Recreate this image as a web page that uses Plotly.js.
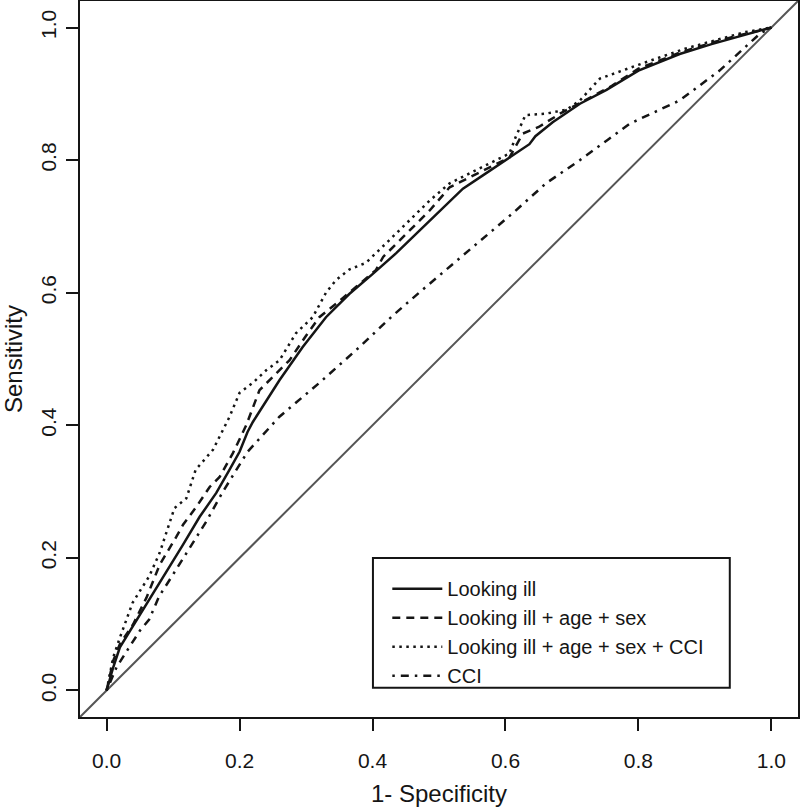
<!DOCTYPE html>
<html>
<head>
<meta charset="utf-8">
<script src="https://cdn.plot.ly/plotly-3.0.1.min.js"></script>
<style>html,body{margin:0;padding:0;background:#fff;}#chart{width:800px;height:807px;}</style>
</head>
<body>
<div id="chart"></div>
<script>
// Series names
const seriesNames = ["Looking ill", "Looking ill + age + sex", "Looking ill + age + sex + CCI", "CCI"];

// Looking ill (solid)
const illX = [0, 0.01, 0.02, 0.039, 0.065, 0.09, 0.115, 0.14, 0.165, 0.185, 0.2, 0.212, 0.22, 0.26, 0.295, 0.33, 0.365, 0.4, 0.436, 0.471, 0.505, 0.536, 0.566, 0.596, 0.636, 0.645, 0.671, 0.712, 0.752, 0.8, 0.862, 0.91, 0.95, 0.993, 1];
const illY = [0, 0.035, 0.065, 0.096, 0.137, 0.178, 0.22, 0.262, 0.298, 0.333, 0.36, 0.39, 0.405, 0.468, 0.518, 0.563, 0.598, 0.628, 0.66, 0.694, 0.727, 0.757, 0.777, 0.797, 0.824, 0.836, 0.857, 0.885, 0.906, 0.935, 0.96, 0.975, 0.986, 0.998, 1];

// Looking ill + age + sex (dashed)
const ageSexX = [0, 0.01, 0.02, 0.04, 0.06, 0.08, 0.105, 0.115, 0.135, 0.155, 0.17, 0.19, 0.21, 0.23, 0.25, 0.275, 0.3, 0.32, 0.346, 0.365, 0.405, 0.416, 0.456, 0.486, 0.516, 0.546, 0.576, 0.606, 0.626, 0.65, 0.682, 0.72, 0.76, 0.8, 0.862, 0.91, 0.95, 0.993, 1];
const ageSexY = [0, 0.045, 0.07, 0.1, 0.14, 0.19, 0.232, 0.25, 0.277, 0.307, 0.322, 0.358, 0.4, 0.453, 0.473, 0.498, 0.535, 0.563, 0.584, 0.6, 0.634, 0.654, 0.694, 0.724, 0.759, 0.774, 0.789, 0.804, 0.84, 0.85, 0.87, 0.89, 0.912, 0.938, 0.962, 0.977, 0.988, 0.998, 1];

// Looking ill + age + sex + CCI (dotted)
const fullX = [0, 0.01, 0.019, 0.039, 0.05, 0.064, 0.08, 0.09, 0.102, 0.12, 0.134, 0.16, 0.185, 0.2, 0.22, 0.24, 0.26, 0.285, 0.31, 0.33, 0.345, 0.365, 0.39, 0.425, 0.456, 0.486, 0.516, 0.546, 0.576, 0.606, 0.615, 0.63, 0.66, 0.692, 0.712, 0.742, 0.812, 0.87, 0.92, 0.96, 1];
const fullY = [0, 0.05, 0.077, 0.132, 0.15, 0.172, 0.208, 0.24, 0.275, 0.29, 0.333, 0.363, 0.413, 0.449, 0.464, 0.483, 0.498, 0.539, 0.563, 0.6, 0.619, 0.635, 0.645, 0.679, 0.709, 0.739, 0.765, 0.78, 0.795, 0.81, 0.834, 0.868, 0.87, 0.876, 0.89, 0.923, 0.948, 0.968, 0.982, 0.993, 1];

// CCI (dot-dash)
const cciX = [0, 0.015, 0.032, 0.05, 0.064, 0.079, 0.1, 0.125, 0.15, 0.175, 0.212, 0.26, 0.32, 0.376, 0.431, 0.47, 0.516, 0.586, 0.611, 0.661, 0.712, 0.753, 0.787, 0.862, 0.922, 0.983, 1];
const cciY = [0, 0.035, 0.062, 0.09, 0.107, 0.142, 0.175, 0.215, 0.255, 0.3, 0.36, 0.413, 0.464, 0.514, 0.566, 0.6, 0.639, 0.699, 0.72, 0.765, 0.8, 0.83, 0.855, 0.89, 0.935, 0.991, 1];

// Axis ticks
const tickVals = [0, 0.2, 0.4, 0.6, 0.8, 1.0];
const tickText = ["0.0", "0.2", "0.4", "0.6", "0.8", "1.0"];

const FONT = "Liberation Sans, Arial, Helvetica, sans-serif";
const INK = "#151515";
const LW = 2.5;

const traces = [
  {x: illX, y: illY, name: seriesNames[0], mode: "lines", line: {color: INK, width: LW, dash: "solid"}},
  {x: ageSexX, y: ageSexY, name: seriesNames[1], mode: "lines", line: {color: INK, width: LW, dash: "8px,6px"}},
  {x: fullX, y: fullY, name: seriesNames[2], mode: "lines", line: {color: INK, width: LW, dash: "2.5px,4.5px"}},
  {x: cciX, y: cciY, name: seriesNames[3], mode: "lines", line: {color: INK, width: LW, dash: "2.5px,6px,8px,6px"}}
];

const axisCommon = {
  range: [-0.04, 1.04],
  tickvals: tickVals,
  ticktext: tickText,
  ticks: "outside",
  ticklen: 12,
  tickwidth: 2,
  tickcolor: INK,
  showgrid: false,
  zeroline: false,
  showline: true,
  mirror: true,
  linecolor: INK,
  linewidth: 2,
  tickfont: {family: FONT, size: 21, color: INK},
  fixedrange: true
};

const layout = {
  width: 800,
  height: 807,
  margin: {l: 80, r: 2, t: 1, b: 90, pad: 0},
  paper_bgcolor: "#fff",
  plot_bgcolor: "#fff",
  font: {family: FONT, size: 20, color: INK},
  xaxis: Object.assign({}, axisCommon, {
    title: {text: "1- Specificity", font: {family: FONT, size: 24, color: INK}, standoff: 16},
    ticklabelstandoff: 12
  }),
  yaxis: Object.assign({}, axisCommon, {
    title: {text: "Sensitivity", font: {family: FONT, size: 24, color: INK}, standoff: 16},
    tickangle: -90,
    ticklabelstandoff: 2
  }),
  shapes: [
    {type: "line", xref: "paper", yref: "paper", x0: 0, y0: 0, x1: 1, y1: 1,
     line: {color: "#555", width: 2}, layer: "below"},
    {type: "rect", xref: "paper", yref: "paper", x0: 0.408, x1: 0.905, y0: 0.041, y1: 0.222,
     line: {color: INK, width: 2}, fillcolor: "rgba(255,255,255,0)", layer: "above"}
  ],
  showlegend: true,
  legend: {
    x: 0.428, y: 0.2065, xanchor: "left", yanchor: "top",
    bgcolor: "rgba(255,255,255,0)",
    borderwidth: 0,
    font: {family: FONT, size: 20, color: INK},
    itemwidth: 50,
    tracegroupgap: 0
  }
};

Plotly.newPlot("chart", traces, layout, {displayModeBar: false, staticPlot: true});
</script>
</body>
</html>
